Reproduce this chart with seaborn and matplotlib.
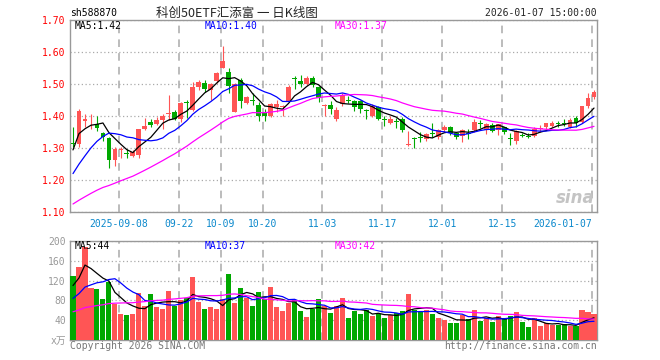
import numpy as np
import pandas as pd
import seaborn as sns
import matplotlib
matplotlib.use("Agg")
import matplotlib.pyplot as plt

# ---- data (sh588870, daily) ----
opens = [1.315, 1.311, 1.385, 1.386, 1.376, 1.346, 1.332, 1.262, 1.295, 1.285,
         1.276, 1.278, 1.358, 1.381, 1.376, 1.387, 1.405, 1.414, 1.390, 1.442,
         1.419, 1.490, 1.502, 1.480, 1.508, 1.551, 1.537, 1.413, 1.513, 1.440,
         1.450, 1.434, 1.411, 1.400, 1.427, 1.428, 1.447, 1.520, 1.510, 1.499,
         1.520, 1.490, 1.430, 1.434, 1.390, 1.437, 1.449, 1.447, 1.447, 1.418,
         1.401, 1.427, 1.389, 1.379, 1.384, 1.391, 1.310, 1.330, 1.332, 1.327,
         1.345, 1.333, 1.356, 1.366, 1.346, 1.336, 1.347, 1.356, 1.378, 1.356,
         1.372, 1.356, 1.365, 1.331, 1.323, 1.339, 1.336, 1.339, 1.358, 1.365,
         1.370, 1.376, 1.378, 1.367, 1.394, 1.380, 1.431, 1.460]
highs = [1.367, 1.422, 1.406, 1.405, 1.400, 1.351, 1.335, 1.302, 1.304, 1.298,
         1.294, 1.360, 1.393, 1.392, 1.398, 1.406, 1.466, 1.420, 1.445, 1.450,
         1.507, 1.512, 1.512, 1.502, 1.536, 1.620, 1.551, 1.503, 1.520, 1.463,
         1.473, 1.445, 1.421, 1.441, 1.450, 1.434, 1.497, 1.525, 1.528, 1.525,
         1.525, 1.494, 1.437, 1.448, 1.427, 1.471, 1.463, 1.450, 1.450, 1.421,
         1.436, 1.431, 1.400, 1.400, 1.393, 1.396, 1.353, 1.334, 1.351, 1.348,
         1.377, 1.358, 1.372, 1.369, 1.351, 1.358, 1.358, 1.390, 1.387, 1.377,
         1.377, 1.376, 1.367, 1.346, 1.356, 1.346, 1.348, 1.365, 1.372, 1.377,
         1.384, 1.384, 1.390, 1.393, 1.400, 1.431, 1.473, 1.481]
lows = [1.303, 1.304, 1.365, 1.360, 1.354, 1.322, 1.236, 1.245, 1.270, 1.270,
        1.273, 1.269, 1.356, 1.367, 1.372, 1.360, 1.388, 1.386, 1.382, 1.395,
        1.417, 1.480, 1.476, 1.450, 1.502, 1.549, 1.471, 1.411, 1.424, 1.436,
        1.435, 1.385, 1.385, 1.396, 1.414, 1.400, 1.445, 1.485, 1.492, 1.496,
        1.490, 1.445, 1.400, 1.406, 1.385, 1.431, 1.442, 1.417, 1.410, 1.390,
        1.396, 1.387, 1.369, 1.375, 1.364, 1.351, 1.307, 1.299, 1.320, 1.323,
        1.333, 1.328, 1.351, 1.341, 1.328, 1.320, 1.328, 1.351, 1.361, 1.344,
        1.349, 1.341, 1.343, 1.310, 1.312, 1.333, 1.330, 1.333, 1.351, 1.358,
        1.365, 1.365, 1.370, 1.364, 1.367, 1.377, 1.426, 1.453]
closes = [1.312, 1.415, 1.390, 1.389, 1.364, 1.333, 1.264, 1.298, 1.298, 1.280,
          1.288, 1.358, 1.370, 1.372, 1.389, 1.399, 1.408, 1.390, 1.440, 1.440,
          1.490, 1.507, 1.485, 1.500, 1.533, 1.572, 1.494, 1.500, 1.448, 1.460,
          1.446, 1.401, 1.401, 1.437, 1.437, 1.431, 1.492, 1.517, 1.501, 1.518,
          1.497, 1.455, 1.434, 1.421, 1.419, 1.466, 1.447, 1.429, 1.421, 1.416,
          1.432, 1.391, 1.387, 1.390, 1.382, 1.356, 1.313, 1.328, 1.330, 1.343,
          1.343, 1.356, 1.366, 1.346, 1.333, 1.356, 1.345, 1.381, 1.376, 1.375,
          1.353, 1.374, 1.349, 1.329, 1.353, 1.337, 1.335, 1.359, 1.363, 1.377,
          1.377, 1.374, 1.376, 1.387, 1.377, 1.431, 1.455, 1.474]
volumes = [130, 147, 187, 105, 104, 82, 117, 73, 52, 50,
           52, 94, 69, 92, 66, 62, 98, 69, 80, 85,
           128, 76, 62, 66, 62, 82, 134, 74, 106, 84,
           68, 96, 82, 108, 66, 58, 74, 80, 58, 46,
           62, 82, 68, 54, 68, 84, 44, 58, 52, 60,
           48, 52, 44, 50, 54, 58, 92, 60, 56, 60,
           52, 44, 40, 34, 34, 50, 42, 60, 38, 44,
           36, 48, 44, 48, 56, 36, 26, 44, 28, 34,
           30, 30, 32, 28, 28, 60, 56, 52]

# earlier sessions (before the window), estimated from where the MA lines start
hist_closes = [1.060, 1.065, 1.072, 1.068, 1.075, 1.080, 1.078, 1.070, 1.066, 1.074,
               1.082, 1.088, 1.079, 1.083, 1.090, 1.085, 1.078, 1.082, 1.088, 1.087,
               1.12, 1.13, 1.14, 1.16, 1.18, 1.16, 1.315, 1.333, 1.35]
hist_volumes = [38, 42, 45, 40, 36, 44, 48, 41, 39, 47, 52, 45, 40, 43, 46, 50, 42, 44, 48, 40,
                50, 55, 60, 62, 63, 70, 57, 140, 153]

start_date, end_date = "2025-08-27", "2026-01-07"
holidays = ["2025-10-01", "2025-10-02", "2025-10-03", "2025-10-06", "2025-10-07",
            "2025-10-08", "2026-01-01", "2026-01-02"]
tick_dates = ["2025-09-08", "2025-09-22", "2025-10-09", "2025-10-20", "2025-11-03",
              "2025-11-17", "2025-12-01", "2025-12-15", "2026-01-07"]
tick_labels = ["2025-09-08", "09-22", "10-09", "10-20", "11-03", "11-17", "12-01",
               "12-15", "2026-01-07"]

RED = "#ff5555"
GREEN = "#00a800"
GRID = "#aaaaaa"

days = pd.bdate_range(start_date, end_date)
days = days[~days.isin(pd.to_datetime(holidays))]
tick_pos = [days.get_loc(pd.Timestamp(d)) - 0.35 for d in tick_dates]

o, h, l, c = map(np.array, (opens, highs, lows, closes))
v = np.array(volumes)
idx = np.arange(len(c))
up = c >= o
cols = np.where(up, RED, GREEN)


def moving(hist, vals, n):
    s = pd.Series(np.concatenate([hist, vals]))
    return s.rolling(n).mean().to_numpy()[len(hist):]


sns.set_style("white")
plt.rcParams["font.family"] = ["DejaVu Sans Mono", "Noto Sans CJK SC"]
plt.rcParams["font.size"] = 7

W, H = 660, 360
fig = plt.figure(figsize=(6.6, 3.6), dpi=100)
ax = fig.add_axes([70 / W, 1 - 212 / H, 527 / W, 192 / H])
axv = fig.add_axes([70 / W, 1 - 340 / H, 527 / W, 99 / H])


def px(x, y):
    return x / W, 1 - y / H


# ---- price panel ----
ax.vlines(idx, l, h, colors=cols, lw=0.8, zorder=3)
body = np.maximum(np.abs(c - o), 0.003)
ax.bar(idx, body, bottom=np.minimum(o, c), width=0.8, color=cols, lw=0, zorder=3)
for n, colr in [(5, "black"), (10, "#0000ff"), (30, "#ff00ff")]:
    sns.lineplot(x=idx, y=moving(hist_closes, c, n), color=colr, lw=0.9, ax=ax, zorder=4)

ax.set_xlim(-0.5, len(c) - 0.5)
ax.set_ylim(1.10, 1.70)
ax.set_yticks(np.arange(1.10, 1.701, 0.10))
ax.set_yticklabels([f"{t:.2f}" for t in np.arange(1.10, 1.701, 0.10)], color="#ff0000")
ax.set_xticks(tick_pos)
ax.set_xticklabels(tick_labels, color="#0a88cc")
ax.get_xticklabels()[-1].set_ha("right")
ax.tick_params(length=0, pad=3)
ax.tick_params(axis="x", pad=5)

# ---- volume panel ----
vdf = pd.DataFrame({"i": idx, "vol": v})
sns.barplot(data=vdf, x="i", y="vol", order=list(idx), width=0.85, errorbar=None,
            color=GREEN, saturation=1, ax=axv, zorder=3)
for patch, colr in zip(axv.patches, cols):
    patch.set_facecolor(colr)
    patch.set_edgecolor("none")
for n, colr in [(5, "black"), (10, "#0000ff"), (30, "#ff00ff")]:
    sns.lineplot(x=idx, y=moving(hist_volumes, v, n), color=colr, lw=0.9, ax=axv, zorder=4)

axv.set_xlim(-0.5, len(c) - 0.5)
axv.set_ylim(0, 200)
axv.set_yticks([0, 40, 80, 120, 160, 200])
axv.set_yticklabels(["x万", "40", "80", "120", "160", "200"], color="#999999")
axv.set_xticks(tick_pos)
axv.set_xticklabels([])
axv.set_xlabel("")
axv.set_ylabel("")
axv.tick_params(length=0, pad=3)

for a in (ax, axv):
    a.set_axisbelow(True)
    a.yaxis.grid(True, ls=(0, (1, 2)), color=GRID, lw=0.9)
    a.xaxis.grid(True, ls=(0, (5, 4)), color=GRID, lw=1.1)
    for sp in a.spines.values():
        sp.set_color("#999999")
        sp.set_linewidth(1)

# ---- texts ----
fig.text(*px(70, 13), "sh588870", ha="left", va="center", color="black")
fig.text(*px(237, 13), "科创50ETF汇添富 一 日K线图", ha="center", va="center",
         fontsize=9, family=["Noto Sans CJK SC", "DejaVu Sans"])
fig.text(*px(597, 13), "2026-01-07 15:00:00", ha="right", va="center")

fig.text(*px(75, 26), "MA5:1.42", ha="left", va="center", color="black")
fig.text(*px(205, 26), "MA10:1.40", ha="left", va="center", color="#0000ff")
fig.text(*px(335, 26), "MA30:1.37", ha="left", va="center", color="#ff00ff")

fig.text(*px(75, 246), "MA5:44", ha="left", va="center", color="black")
fig.text(*px(205, 246), "MA10:37", ha="left", va="center", color="#0000ff")
fig.text(*px(335, 246), "MA30:42", ha="left", va="center", color="#ff00ff")

fig.text(*px(595, 198), "sina", ha="right", va="center", fontsize=12, style="italic",
         weight="bold", color="#c4c4c4", family="DejaVu Sans")
fig.text(*px(70, 346), "Copyright 2026 SINA.COM", ha="left", va="center", color="#777777")
fig.text(*px(597, 346), "http://finance.sina.com.cn", ha="right", va="center", color="#777777")

fig.savefig("out.png", dpi=100)
